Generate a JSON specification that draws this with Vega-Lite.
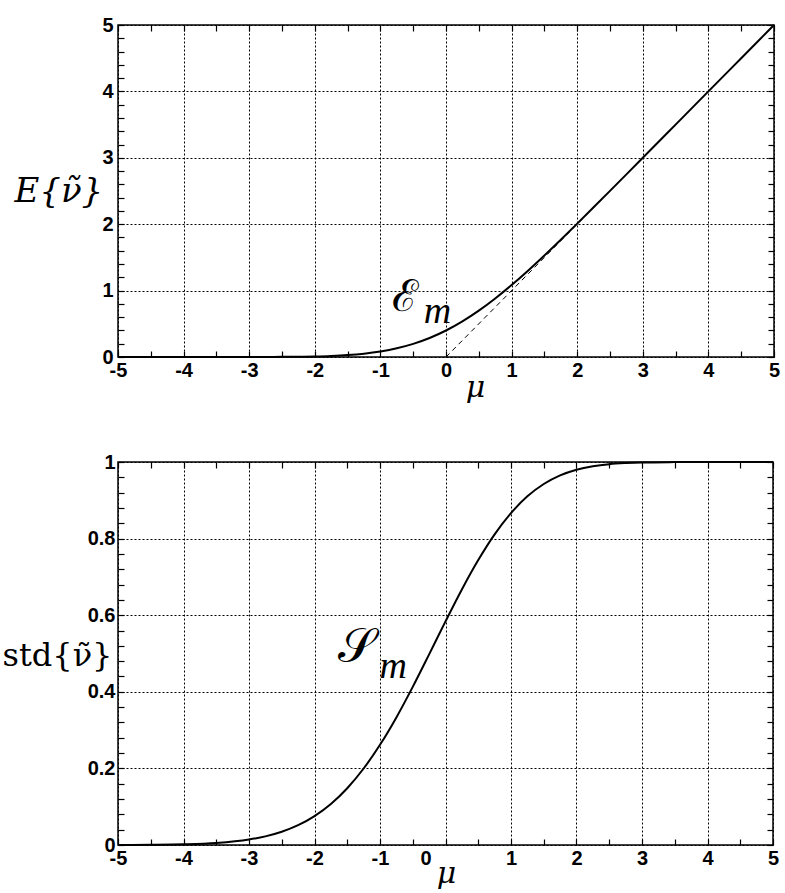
{
  "$schema": "https://vega.github.io/schema/vega-lite/v6.json",
  "background": "white",
  "padding": {"top": 14, "left": 1, "right": 5, "bottom": 2},
  "spacing": 48,
  "datasets": {
    "mean": [
      {"mu": -5, "E": 0}, {"mu": -4.5, "E": 0}, {"mu": -4, "E": 0.00001}, {"mu": -3.5, "E": 0.00006},
      {"mu": -3, "E": 0.00038}, {"mu": -2.75, "E": 0.0009}, {"mu": -2.5, "E": 0.002}, {"mu": -2.25, "E": 0.0042},
      {"mu": -2, "E": 0.0085}, {"mu": -1.75, "E": 0.0162}, {"mu": -1.5, "E": 0.0293}, {"mu": -1.25, "E": 0.0506},
      {"mu": -1, "E": 0.0833}, {"mu": -0.75, "E": 0.1312}, {"mu": -0.5, "E": 0.1978}, {"mu": -0.25, "E": 0.2863},
      {"mu": 0, "E": 0.3989}, {"mu": 0.25, "E": 0.5363}, {"mu": 0.5, "E": 0.6978}, {"mu": 0.75, "E": 0.8812},
      {"mu": 1, "E": 1.0833}, {"mu": 1.25, "E": 1.3006}, {"mu": 1.5, "E": 1.5293}, {"mu": 1.75, "E": 1.7662},
      {"mu": 2, "E": 2.0085}, {"mu": 2.25, "E": 2.2542}, {"mu": 2.5, "E": 2.502}, {"mu": 2.75, "E": 2.7509},
      {"mu": 3, "E": 3.0004}, {"mu": 3.5, "E": 3.5001}, {"mu": 4, "E": 4}, {"mu": 4.5, "E": 4.5}, {"mu": 5, "E": 5}
    ],
    "asym": [
      {"mu": 0, "E": 0}, {"mu": 5, "E": 5}
    ],
    "std": [
      {"mu": -5, "S": 0.0002}, {"mu": -4.5, "S": 0.0006}, {"mu": -4, "S": 0.0018}, {"mu": -3.5, "S": 0.0053},
      {"mu": -3, "S": 0.0143}, {"mu": -2.75, "S": 0.0225}, {"mu": -2.5, "S": 0.0346}, {"mu": -2.25, "S": 0.0517},
      {"mu": -2, "S": 0.0755}, {"mu": -1.75, "S": 0.1072}, {"mu": -1.5, "S": 0.1483}, {"mu": -1.25, "S": 0.1997},
      {"mu": -1, "S": 0.2616}, {"mu": -0.75, "S": 0.3332}, {"mu": -0.5, "S": 0.4129}, {"mu": -0.25, "S": 0.4977},
      {"mu": 0, "S": 0.5838}, {"mu": 0.25, "S": 0.6672}, {"mu": 0.5, "S": 0.7439}, {"mu": 0.75, "S": 0.8111},
      {"mu": 1, "S": 0.8666}, {"mu": 1.25, "S": 0.9103}, {"mu": 1.5, "S": 0.9425}, {"mu": 1.75, "S": 0.9651},
      {"mu": 2, "S": 0.9799}, {"mu": 2.25, "S": 0.989}, {"mu": 2.5, "S": 0.9944}, {"mu": 2.75, "S": 0.9972},
      {"mu": 3, "S": 0.9988}, {"mu": 3.5, "S": 0.9997}, {"mu": 4, "S": 1}, {"mu": 4.5, "S": 1}, {"mu": 5, "S": 1}
    ],
    "labE": [{"mu": -0.62, "E": 0.89, "t": "ℰ"}],
    "labEm": [{"mu": -0.13, "E": 0.68, "t": "m"}],
    "labS": [{"mu": -1.36, "S": 0.515, "t": "𝒮"}],
    "labSm": [{"mu": -0.8, "S": 0.465, "t": "m"}]
  },
  "config": {
    "view": {"stroke": "black", "strokeWidth": 1.5},
    "axis": {
      "domain": false,
      "labelFont": "Liberation Sans",
      "labelFontWeight": "bold",
      "labelFontSize": 20,
      "labelColor": "black",
      "labelFlush": false,
      "labelOverlap": false,
      "labelBound": false,
      "tickColor": "black",
      "tickWidth": 1.2,
      "tickSize": -6,
      "gridColor": "black",
      "gridDash": [2, 2],
      "gridWidth": 1,
      "titleColor": "black",
      "titleFontWeight": "normal"
    }
  },
  "vconcat": [
    {
      "width": 656,
      "height": 332,
      "layer": [
        {
          "data": {"name": "mean"},
          "mark": {"type": "line", "color": "black", "strokeWidth": 2, "interpolate": "monotone"},
          "encoding": {
            "x": {"field": "mu", "type": "quantitative", "scale": {"domain": [-5, 5], "nice": false},
              "axis": {
                "orient": "bottom",
                "values": [-5,-4.5,-4,-3.5,-3,-2.5,-2,-1.5,-1,-0.5,0,0.5,1,1.5,2,2.5,3,3.5,4,4.5,5],
                "labelExpr": "datum.value % 1 === 0 ? '' + datum.value : ''",
                "labelFont": "Liberation Sans",
                "labelFontWeight": "bold",
                "labelFontSize": 20,
                "labelPadding": 9,
                "grid": true,
                "gridOpacity": {"condition": {"test": "datum.value % 1 === 0", "value": 1}, "value": 0},
                "title": "μ",
                "titleFont": "DejaVu Serif",
                "titleFontStyle": "italic",
                "titleFontSize": 30,
                "titleX": 357,
                "titleY": 30,
                "titleAlign": "center",
                "titleBaseline": "middle"
              }},
            "y": {"field": "E", "type": "quantitative", "scale": {"domain": [0, 5], "nice": false},
              "axis": {
                "orient": "left",
                "values": [0,0.2,0.4,0.6,0.8,1,1.2,1.4,1.6,1.8,2,2.2,2.4,2.6,2.8,3,3.2,3.4,3.6,3.8,4,4.2,4.4,4.6,4.8,5],
                "labelExpr": "datum.value % 1 === 0 ? '' + datum.value : ''",
                "labelFont": "Liberation Sans",
                "labelFontWeight": "bold",
                "labelFontSize": 20,
                "labelPadding": 11,
                "grid": true,
                "gridOpacity": {"condition": {"test": "datum.value % 1 === 0", "value": 1}, "value": 0},
                "title": "E{ν̃}",
                "titleFont": "DejaVu Serif",
                "titleFontStyle": "italic",
                "titleFontSize": 34,
                "titleAngle": 0,
                "titleX": -104,
                "titleY": 166,
                "titleAlign": "left",
                "titleBaseline": "middle"
              }}
          }
        },
        {
          "data": {"name": "asym"},
          "mark": {"type": "line", "color": "black", "strokeWidth": 1, "strokeDash": [5, 4]},
          "encoding": {
            "x": {"field": "mu", "type": "quantitative",
              "axis": {"orient": "top", "values": [-5,-4.5,-4,-3.5,-3,-2.5,-2,-1.5,-1,-0.5,0,0.5,1,1.5,2,2.5,3,3.5,4,4.5,5], "labels": false, "grid": false, "title": null}},
            "y": {"field": "E", "type": "quantitative",
              "axis": {"orient": "right", "values": [0,0.2,0.4,0.6,0.8,1,1.2,1.4,1.6,1.8,2,2.2,2.4,2.6,2.8,3,3.2,3.4,3.6,3.8,4,4.2,4.4,4.6,4.8,5], "labels": false, "grid": false, "title": null}}
          }
        },
        {
          "data": {"name": "labE"},
          "mark": {"type": "text", "font": "DejaVu Serif", "fontSize": 44, "color": "black", "baseline": "middle", "align": "center"},
          "encoding": {
            "x": {"field": "mu", "type": "quantitative", "axis": null},
            "y": {"field": "E", "type": "quantitative", "axis": null},
            "text": {"field": "t"}
          }
        },
        {
          "data": {"name": "labEm"},
          "mark": {"type": "text", "font": "Liberation Serif", "fontStyle": "italic", "fontSize": 38, "color": "black", "baseline": "middle", "align": "center"},
          "encoding": {
            "x": {"field": "mu", "type": "quantitative", "axis": null},
            "y": {"field": "E", "type": "quantitative", "axis": null},
            "text": {"field": "t"}
          }
        }
      ],
      "resolve": {"axis": {"x": "independent", "y": "independent"}}
    },
    {
      "width": 655,
      "height": 383,
      "layer": [
        {
          "data": {"name": "std"},
          "mark": {"type": "line", "color": "black", "strokeWidth": 2, "interpolate": "monotone"},
          "encoding": {
            "x": {"field": "mu", "type": "quantitative", "scale": {"domain": [-5, 5], "nice": false},
              "axis": {
                "orient": "bottom",
                "values": [-5,-4.5,-4,-3.5,-3,-2.5,-2,-1.5,-1,-0.5,0,0.5,1,1.5,2,2.5,3,3.5,4,4.5,5],
                "labelExpr": "datum.value % 1 === 0 ? '' + datum.value : ''",
                "labelFont": "Liberation Sans",
                "labelFontWeight": "bold",
                "labelFontSize": 20,
                "labelPadding": 9,
                "labelOffset": {"condition": {"test": "datum.value === 0", "value": -20}, "value": 0},
                "grid": true,
                "gridOpacity": {"condition": {"test": "datum.value % 1 === 0", "value": 1}, "value": 0},
                "title": "μ",
                "titleFont": "DejaVu Serif",
                "titleFontStyle": "italic",
                "titleFontSize": 30,
                "titleX": 328,
                "titleY": 28,
                "titleAlign": "center",
                "titleBaseline": "middle"
              }},
            "y": {"field": "S", "type": "quantitative", "scale": {"domain": [0, 1], "nice": false},
              "axis": {
                "orient": "left",
                "values": [0,0.04,0.08,0.12,0.16,0.2,0.24,0.28,0.32,0.36,0.4,0.44,0.48,0.52,0.56,0.6,0.64,0.68,0.72,0.76,0.8,0.84,0.88,0.92,0.96,1],
                "labelExpr": "abs(datum.value*5 - round(datum.value*5)) < 0.001 ? '' + (round(datum.value*5)/5) : ''",
                "labelFont": "Liberation Sans",
                "labelFontWeight": "bold",
                "labelFontSize": 20,
                "labelPadding": 9,
                "grid": true,
                "gridOpacity": {"condition": {"test": "abs(datum.value*5 - round(datum.value*5)) < 0.001", "value": 1}, "value": 0},
                "title": "std{ν̃}",
                "titleFont": "DejaVu Serif",
                "titleFontSize": 32,
                "titleAngle": 0,
                "titleX": -116,
                "titleY": 193,
                "titleAlign": "left",
                "titleBaseline": "middle"
              }}
          }
        },
        {
          "data": {"name": "std"},
          "mark": {"type": "line", "opacity": 0},
          "encoding": {
            "x": {"field": "mu", "type": "quantitative",
              "axis": {"orient": "top", "values": [-5,-4.5,-4,-3.5,-3,-2.5,-2,-1.5,-1,-0.5,0,0.5,1,1.5,2,2.5,3,3.5,4,4.5,5], "labels": false, "grid": false, "title": null}},
            "y": {"field": "S", "type": "quantitative",
              "axis": {"orient": "right", "values": [0,0.04,0.08,0.12,0.16,0.2,0.24,0.28,0.32,0.36,0.4,0.44,0.48,0.52,0.56,0.6,0.64,0.68,0.72,0.76,0.8,0.84,0.88,0.92,0.96,1], "labels": false, "grid": false, "title": null}}
          }
        },
        {
          "data": {"name": "labS"},
          "mark": {"type": "text", "font": "DejaVu Serif", "fontSize": 48, "color": "black", "baseline": "middle", "align": "center"},
          "encoding": {
            "x": {"field": "mu", "type": "quantitative", "axis": null},
            "y": {"field": "S", "type": "quantitative", "axis": null},
            "text": {"field": "t"}
          }
        },
        {
          "data": {"name": "labSm"},
          "mark": {"type": "text", "font": "Liberation Serif", "fontStyle": "italic", "fontSize": 38, "color": "black", "baseline": "middle", "align": "center"},
          "encoding": {
            "x": {"field": "mu", "type": "quantitative", "axis": null},
            "y": {"field": "S", "type": "quantitative", "axis": null},
            "text": {"field": "t"}
          }
        }
      ],
      "resolve": {"axis": {"x": "independent", "y": "independent"}}
    }
  ]
}
